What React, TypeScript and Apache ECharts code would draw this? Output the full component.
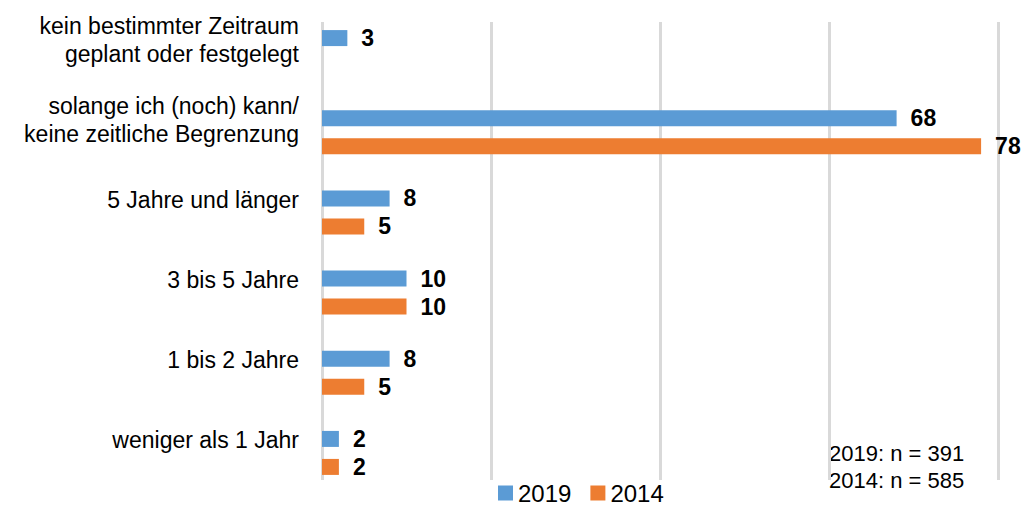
import React, { useEffect, useRef } from "react";
import * as echarts from "echarts";

const categories = [
  "kein bestimmter Zeitraum\ngeplant oder festgelegt",
  "solange ich (noch) kann/\nkeine zeitliche Begrenzung",
  "5 Jahre und länger",
  "3 bis 5 Jahre",
  "1 bis 2 Jahre",
  "weniger als 1 Jahr",
];
const seriesNames = ["2019", "2014"];
const values2019 = [3, 68, 8, 10, 8, 2];
const values2014: (number | null)[] = [null, 78, 5, 10, 5, 2];
const axisMin = 0;
const axisMax = 80;
const axisInterval = 20;
const sampleNotes = ["2019: n = 391", "2014: n = 585"];

const FONT = "'Liberation Sans', Arial, Helvetica, sans-serif";
const BLUE = "#5B9BD5";
const ORANGE = "#ED7D31";

export default function App() {
  const ref = useRef<HTMLDivElement>(null);
  useEffect(() => {
    if (!ref.current) return;
    const chart = echarts.init(ref.current, undefined, { renderer: "svg" });
    const labelStyle = {
      show: true,
      position: "right" as const,
      distance: 14,
      fontFamily: FONT,
      fontSize: 23,
      fontWeight: "bold" as const,
      color: "#000",
    };
    const hiddenValueAxis = (gridIndex: number, splitShow: boolean) => ({
      type: "value",
      gridIndex,
      min: axisMin,
      max: axisMax,
      interval: axisInterval,
      axisLabel: { show: false },
      axisLine: { show: false },
      axisTick: { show: false },
      splitLine: { show: splitShow, lineStyle: { color: "#D9D9D9", width: 3 } },
    });
    chart.setOption({
      animation: false,
      backgroundColor: "#fff",
      textStyle: { fontFamily: FONT },
      grid: [
        { left: 322, right: 26, top: 12, bottom: 12, containLabel: false },
        { left: 322, right: 26, top: 22, height: 458, containLabel: false },
        { left: 322, right: 26, top: -1, height: 481, containLabel: false },
      ],
      xAxis: [hiddenValueAxis(0, false), hiddenValueAxis(1, true), hiddenValueAxis(2, false)],
      yAxis: [
        {
          type: "category",
          gridIndex: 0,
          data: categories,
          inverse: true,
          axisLine: { show: false },
          axisTick: { show: false },
          splitLine: { show: false },
          axisLabel: { show: false },
        },
        {
          type: "value",
          gridIndex: 1,
          show: false,
        },
        {
          type: "category",
          gridIndex: 2,
          data: categories,
          inverse: true,
          axisLine: { show: false },
          axisTick: { show: false },
          splitLine: { show: false },
          axisLabel: {
            interval: 0,
            fontFamily: FONT,
            fontSize: 23,
            color: "#000",
            lineHeight: 28,
            align: "right",
            margin: 23,
          },
        },
      ],
      legend: {
        data: seriesNames,
        left: 493,
        top: 476,
        itemWidth: 15,
        itemHeight: 15,
        itemGap: 19,
        icon: "rect",
        textStyle: { fontFamily: FONT, fontSize: 24, color: "#000" },
      },
      graphic: [
        {
          type: "text",
          left: 829,
          top: 440,
          style: {
            text: sampleNotes.join("\n"),
            fontFamily: FONT,
            fontSize: 22,
            lineHeight: 27,
            fill: "#000",
          },
        },
      ],
      series: [
        {
          name: seriesNames[0],
          type: "bar",
          xAxisIndex: 0,
          yAxisIndex: 0,
          data: values2019,
          barWidth: 16,
          barGap: "75%",
          itemStyle: { color: BLUE },
          label: labelStyle,
        },
        {
          name: seriesNames[1],
          type: "bar",
          xAxisIndex: 0,
          yAxisIndex: 0,
          data: values2014,
          barWidth: 16,
          barGap: "75%",
          itemStyle: { color: ORANGE },
          label: labelStyle,
        },
      ],
    });
    return () => chart.dispose();
  }, []);
  return (
    <div
      ref={ref}
      style={{ position: "fixed", left: 0, top: 0, width: 1024, height: 505 }}
    />
  );
}
